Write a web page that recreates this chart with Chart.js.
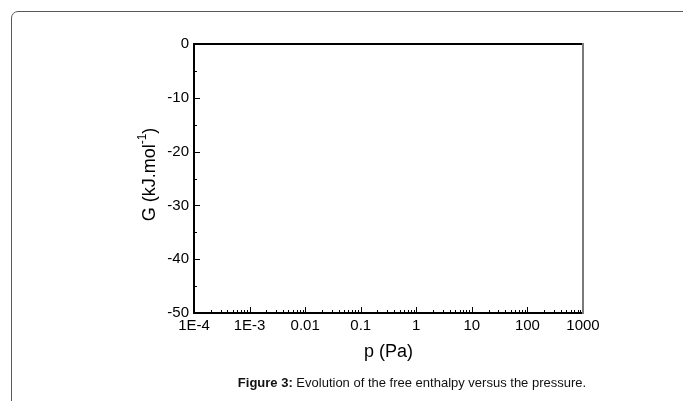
<!DOCTYPE html>
<html><head><meta charset="utf-8">
<script src="https://cdn.jsdelivr.net/npm/chart.js@4"></script>
<style>
html,body{margin:0;padding:0;background:#fff;}
#wrap{position:relative;width:683px;height:401px;overflow:hidden;}
#frame{position:absolute;left:11px;top:11px;width:800px;height:500px;border:1.5px solid #5a5a5a;border-radius:7px;box-sizing:border-box;}
#chartBox{position:absolute;left:0;top:0;width:683px;height:401px;}
#caption{position:absolute;top:375px;left:412px;transform:translateX(-50%);white-space:nowrap;font-family:"Liberation Sans",Arial,sans-serif;font-size:13px;line-height:15px;color:#111;}
</style></head>
<body>
<div id="wrap">
<div id="frame"></div>
<div id="chartBox"><canvas id="c" width="683" height="401"></canvas></div>
<div id="caption"><b>Figure 3:</b> Evolution of the free enthalpy versus the pressure.</div>
</div>
<script>
const pressureDecades = [1e-4, 1e-3, 0.01, 0.1, 1, 10, 100, 1000];
const pressureTickLabels = ['1E-4', '1E-3', '0.01', '0.1', '1', '10', '100', '1000'];
const minorMultipliers = [2, 3, 4, 5, 6, 7, 8, 9];
const gTickValues = [0, -10, -20, -30, -40, -50];
const gMinorValues = [-5, -15, -25, -35, -45];
const gSeries = []; // the reference shows empty axes: no curve is plotted

const FONT = '"Liberation Sans", Arial, sans-serif';

function decadeIndex(v) {
  for (let i = 0; i < pressureDecades.length; i++) {
    if (Math.abs(Math.log10(v) - Math.log10(pressureDecades[i])) < 1e-6) return i;
  }
  return -1;
}

const axesPlugin = {
  id: 'axesPlugin',
  afterDraw(chart) {
    const ctx = chart.ctx;
    const a = chart.chartArea;
    const xs = chart.scales.x, ys = chart.scales.y;
    ctx.save();
    ctx.strokeStyle = '#000';
    ctx.lineWidth = 1;
    ctx.beginPath();
    pressureDecades.forEach((d, i) => {
      if (i > 0 && i < pressureDecades.length - 1) {
        const px = Math.round(xs.getPixelForValue(d)) + 0.5;
        ctx.moveTo(px, a.bottom); ctx.lineTo(px, a.bottom - 6);
      }
      if (i < pressureDecades.length - 1) {
        minorMultipliers.forEach(m => {
          const px = Math.round(xs.getPixelForValue(d * m)) + 0.5;
          ctx.moveTo(px, a.bottom); ctx.lineTo(px, a.bottom - 3);
        });
      }
    });
    gTickValues.forEach(v => {
      const py = Math.round(ys.getPixelForValue(v)) + 0.5;
      ctx.moveTo(a.left, py); ctx.lineTo(a.left + 6, py);
    });
    gMinorValues.forEach(v => {
      const py = Math.round(ys.getPixelForValue(v)) + 0.5;
      ctx.moveTo(a.left, py); ctx.lineTo(a.left + 3, py);
    });
    ctx.stroke();
    ctx.lineWidth = 2;
    ctx.strokeStyle = '#000';
    ctx.beginPath();
    ctx.moveTo(a.right, a.top); ctx.lineTo(a.left, a.top);
    ctx.lineTo(a.left, a.bottom); ctx.lineTo(a.right, a.bottom);
    ctx.stroke();
    ctx.strokeStyle = '#7a7a7a';
    ctx.beginPath();
    ctx.moveTo(a.right, a.top - 1); ctx.lineTo(a.right, a.bottom + 1);
    ctx.stroke();
    ctx.fillStyle = '#000';
    ctx.textBaseline = 'middle';
    ctx.textAlign = 'left';
    const main = 'G (kJ.mol', sup = '-1', close = ')';
    ctx.font = '18px ' + FONT;
    const w1 = ctx.measureText(main).width, w3 = ctx.measureText(close).width;
    ctx.font = '12px ' + FONT;
    const w2 = ctx.measureText(sup).width;
    const total = w1 + w2 + w3;
    ctx.translate(150, (a.top + a.bottom) / 2 - 4);
    ctx.rotate(-Math.PI / 2);
    let x0 = -total / 2;
    ctx.font = '18px ' + FONT;
    ctx.fillText(main, x0, 0);
    ctx.font = '12px ' + FONT;
    ctx.fillText(sup, x0 + w1, -7);
    ctx.font = '18px ' + FONT;
    ctx.fillText(close, x0 + w1 + w2, 0);
    ctx.restore();
  }
};

new Chart(document.getElementById('c'), {
  type: 'scatter',
  data: { datasets: [{ data: gSeries, borderColor: '#000', backgroundColor: '#000' }] },
  options: {
    responsive: false,
    animation: false,
    layout: { padding: { left: 0, right: 100, top: 44, bottom: 0 } },
    plugins: { legend: { display: false }, tooltip: { enabled: false } },
    scales: {
      x: {
        type: 'logarithmic',
        min: 1e-4,
        max: 1000,
        afterBuildTicks: s => { s.ticks = pressureDecades.map(v => ({ value: v })); },
        afterFit: s => { s.height = 88; },
        grid: { display: false, drawTicks: false },
        border: { display: false },
        ticks: {
          autoSkip: false, maxRotation: 0, minRotation: 0, padding: 4,
          color: '#000', font: { family: FONT, size: 15 },
          callback: v => { const i = decadeIndex(v); return i >= 0 ? pressureTickLabels[i] : ''; }
        },
        title: { display: true, text: 'p (Pa)', color: '#000', font: { family: FONT, size: 18 }, padding: { top: 0, bottom: 38 } }
      },
      y: {
        type: 'linear',
        min: -50,
        max: 0,
        afterBuildTicks: s => { s.ticks = gTickValues.map(v => ({ value: v })); },
        afterFit: s => { s.width = 194; },
        grid: { display: false, drawTicks: false },
        border: { display: false },
        ticks: { autoSkip: false, padding: 5, color: '#000', font: { family: FONT, size: 15 } }
      }
    }
  },
  plugins: [axesPlugin]
});
</script>
</body></html>
